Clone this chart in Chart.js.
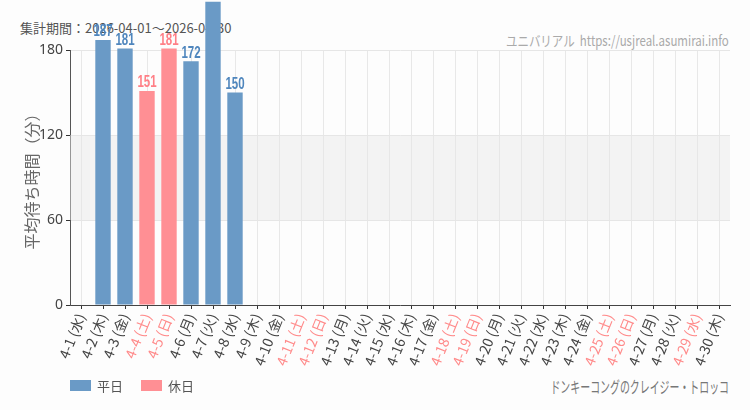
<!DOCTYPE html>
<html>
<head>
<meta charset="utf-8">
<script src="https://cdn.jsdelivr.net/npm/chart.js@4"></script>
<style>
  body { margin: 0; background: #fdfdfd; font-family: 'Noto Sans CJK JP', sans-serif; }
  #wrap { position: relative; width: 750px; height: 410px; }
  #chart { position: absolute; left: 0; top: 0; z-index: 2; }
  .txt { position: absolute; white-space: nowrap; }
  #period { left: 20px; top: 18px; font-size: 13px; color: #555; z-index: 1; }
  #site { right: 21px; top: 30px; font-size: 14px; color: #aaa; font-family: 'Liberation Sans Narrow', 'Noto Sans CJK JP', sans-serif; transform: scaleX(0.82); transform-origin: right center; }
  #ride { right: 21px; top: 374px; font-size: 16px; color: #777; font-family: 'Liberation Sans Narrow', 'Noto Sans CJK JP', sans-serif; transform: scaleX(0.62); transform-origin: right center; }
  #legend { left: 70px; top: 376px; font-size: 13px; color: #555; display: flex; align-items: center; z-index: 3; }
  #legend .box { display: inline-block; width: 21px; height: 11px; margin-right: 6px; }
  #legend .item { display: flex; align-items: center; margin-right: 18px; }
</style>
</head>
<body>
<div id="wrap">
  <div class="txt" id="period">集計期間：2026-04-01～2026-04-30</div>
  <div class="txt" id="site">ユニバリアル&nbsp;&nbsp;https://usjreal.asumirai.info</div>
  <div class="txt" id="ride">ドンキーコングのクレイジー・トロッコ</div>
  <div class="txt" id="legend">
    <span class="item"><span class="box" style="background:#6a9ac6"></span>平日</span>
    <span class="item"><span class="box" style="background:#ff8f94"></span>休日</span>
  </div>
  <canvas id="chart" width="750" height="410"></canvas>
</div>
<script>
// ===== Data =====
const days = ['4-1 (水)', '4-2 (木)', '4-3 (金)', '4-4 (土)', '4-5 (日)', '4-6 (月)', '4-7 (火)', '4-8 (水)',
  '4-9 (木)', '4-10 (金)', '4-11 (土)', '4-12 (日)', '4-13 (月)', '4-14 (火)', '4-15 (水)', '4-16 (木)',
  '4-17 (金)', '4-18 (土)', '4-19 (日)', '4-20 (月)', '4-21 (火)', '4-22 (水)', '4-23 (木)', '4-24 (金)',
  '4-25 (土)', '4-26 (日)', '4-27 (月)', '4-28 (火)', '4-29 (水)', '4-30 (木)']
const holidayFlags = [0, 0, 0, 1, 1, 0, 0, 0, 0, 0, 1, 1, 0, 0, 0, 0, 0, 1, 1, 0, 0, 0, 0, 0, 1, 1, 0, 0, 1, 0]
const weekdayWaits = [null, 187, 181, null, null, 172, 214, 150, null, null, null, null, null, null, null, null,
  null, null, null, null, null, null, null, null, null, null, null, null, null, null]
const holidayWaits = [null, null, null, 151, 181, null, null, null, null, null, null, null, null, null, null, null,
  null, null, null, null, null, null, null, null, null, null, null, null, null, null]
const yTicks = [0, 60, 120, 180]

const blue = '#6a9ac6'
const pink = '#ff8f94'

// grey band between 60 and 120
const bandPlugin = {
  id: 'band',
  beforeDatasetsDraw(chart) {
    const { ctx, chartArea, scales } = chart
    const top = scales.y.getPixelForValue(120)
    const bottom = scales.y.getPixelForValue(60)
    ctx.save()
    ctx.fillStyle = 'rgba(230,230,230,0.45)'
    ctx.fillRect(chartArea.left, top, chartArea.right - chartArea.left, bottom - top)
    ctx.restore()
  }
}

// value labels above bars
const valueLabels = {
  id: 'valueLabels',
  afterDatasetsDraw(chart) {
    const { ctx } = chart
    ctx.save()
    ctx.font = 'bold 16px "Liberation Sans Narrow", sans-serif'
    ctx.textAlign = 'center'
    ctx.textBaseline = 'bottom'
    chart.data.datasets.forEach((ds, i) => {
      const meta = chart.getDatasetMeta(i)
      ctx.fillStyle = i === 0 ? '#4f86bd' : '#ff7f86'
      meta.data.forEach((bar, j) => {
        const v = ds.data[j]
        if (v == null) return
        ctx.save()
        ctx.translate(bar.x, bar.y)
        ctx.scale(0.72, 1)
        ctx.fillText(String(v), 0, 0)
        ctx.restore()
      })
    })
    ctx.restore()
  }
}

new Chart(document.getElementById('chart'), {
  type: 'bar',
  data: {
    labels: days,
    datasets: [
      { label: '平日', data: weekdayWaits, backgroundColor: blue, grouped: false, clip: false },
      { label: '休日', data: holidayWaits, backgroundColor: pink, grouped: false, clip: false }
    ]
  },
  options: {
    responsive: false,
    animation: false,
    layout: { padding: { top: 50, right: 20, left: 0, bottom: 0 } },
    datasets: { bar: { categoryPercentage: 1, barPercentage: 0.7 } },
    plugins: { legend: { display: false }, tooltip: { enabled: false } },
    scales: {
      x: {
        afterFit(scale) { scale.height = 105 },
        grid: { color: '#e8e8e8', tickColor: '#333', tickLength: 4, offset: false },
        border: { color: '#444' },
        ticks: {
          autoSkip: false, minRotation: 68, maxRotation: 68, padding: 2,
          font: { family: 'Noto Sans CJK JP', size: 14 },
          color: holidayFlags.map(h => h ? '#ff8a8a' : '#444')
        }
      },
      y: {
        min: 0, max: 180,
        afterFit(scale) { scale.width = 70 },
        afterBuildTicks(scale) { scale.ticks = yTicks.map(v => ({ value: v })) },
        grid: { color: '#e6e6e6', tickColor: '#333', tickLength: 4 },
        border: { color: '#555' },
        ticks: { padding: 3, color: '#444', font: { family: 'Noto Sans', size: 14 } },
        title: {
          display: true, text: '平均待ち時間（分）', color: '#666',
          font: { family: 'Noto Sans CJK JP', size: 16 }, padding: { top: 22, bottom: 0 }
        }
      }
    }
  },
  plugins: [bandPlugin, valueLabels]
})
</script>
</body>
</html>
